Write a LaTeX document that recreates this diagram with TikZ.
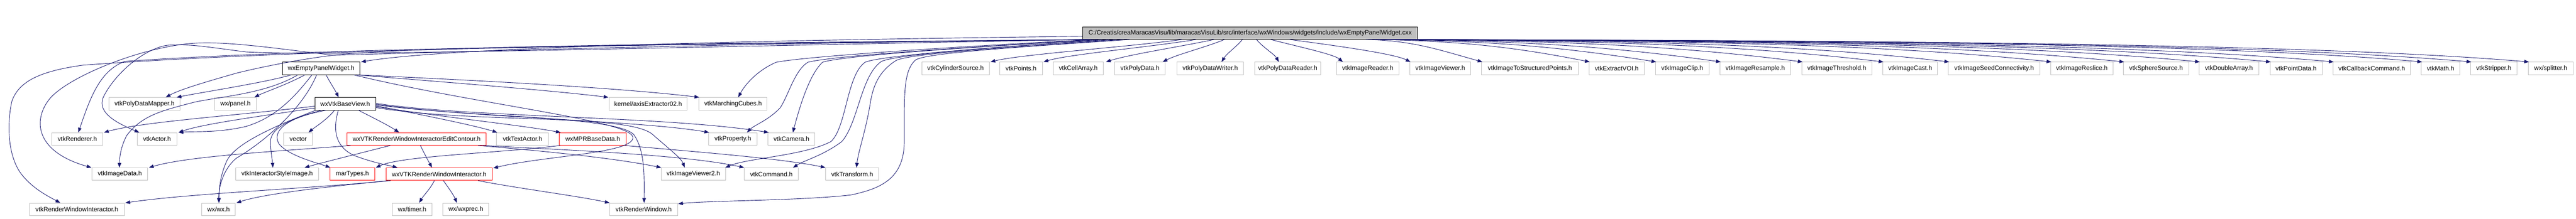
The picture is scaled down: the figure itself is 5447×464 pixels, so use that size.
\documentclass[tikz,border=0pt]{standalone}
\usepackage{fontspec}
\setmainfont{Liberation Sans}
\usetikzlibrary{arrows.meta}
\definecolor{edgec}{HTML}{191970}
\definecolor{greyb}{HTML}{BFBFBF}
\begin{document}
\begin{tikzpicture}[x=1pt,y=-1pt,
  box/.style={rectangle, draw=greyb, line width=1pt, inner sep=0pt, minimum height=26.6pt, font=\fontsize{13.33}{16}\selectfont, text=black},
  kbox/.style={box, draw=black},
  rbox/.style={box, draw=red},
  rootbox/.style={box, draw=black, fill=greyb},
  edge/.style={draw=edgec, line width=1pt, -{Triangle[length=10pt,width=7.5pt]}},
]
\useasboundingbox[fill=white] (0,0) rectangle (5447,464);
% root
\node[rootbox, minimum width=708] (root) at (2643.5,70) {C:/Creatis/creaMaracasVisu/lib/maracasVisuLib/src/interface/wxWindows/widgets/include/wxEmptyPanelWidget.cxx};
% row 1
\node[kbox, minimum width=164] (wxe) at (679,145) {wxEmptyPanelWidget.h};
\node[box, minimum width=143] (cyl) at (2020.5,145) {vtkCylinderSource.h};
\node[box, minimum width=90] (pts) at (2159,145) {vtkPoints.h};
\node[box, minimum width=106] (cell) at (2280,145) {vtkCellArray.h};
\node[box, minimum width=107] (pd) at (2410.5,145) {vtkPolyData.h};
\node[box, minimum width=141] (pdw) at (2559,145) {vtkPolyDataWriter.h};
\node[box, minimum width=140] (pdr) at (2723,145) {vtkPolyDataReader.h};
\node[box, minimum width=132] (ir) at (2892,145) {vtkImageReader.h};
\node[box, minimum width=129] (iv) at (3045.5,145) {vtkImageViewer.h};
\node[box, minimum width=204] (itsp) at (3235,145) {vtkImageToStructuredPoints.h};
\node[box, minimum width=117] (evoi) at (3418.5,145) {vtkExtractVOI.h};
\node[box, minimum width=113] (iclip) at (3557,145) {vtkImageClip.h};
\node[box, minimum width=149] (ires) at (3711.5,145) {vtkImageResample.h};
\node[box, minimum width=148] (ithr) at (3884,145) {vtkImageThreshold.h};
\node[box, minimum width=116] (icast) at (4039,145) {vtkImageCast.h};
\node[box, minimum width=193] (iseed) at (4216.5,145) {vtkImageSeedConnectivity.h};
\node[box, minimum width=132] (irsl) at (4402,145) {vtkImageReslice.h};
\node[box, minimum width=138] (sph) at (4559,145) {vtkSphereSource.h};
\node[box, minimum width=126] (dbl) at (4713,145) {vtkDoubleArray.h};
\node[box, minimum width=110] (ptd) at (4855,145) {vtkPointData.h};
\node[box, minimum width=164] (cbc) at (5015,145) {vtkCallbackCommand.h};
\node[box, minimum width=81] (math) at (5160.5,145) {vtkMath.h};
\node[box, minimum width=98] (strip) at (5273,145) {vtkStripper.h};
\node[box, minimum width=95] (split) at (5393.5,145) {wx/splitter.h};
% row 2
\node[box, minimum width=151] (pdm) at (305.5,220) {vtkPolyDataMapper.h};
\node[box, minimum width=88] (panel) at (498,220) {wx/panel.h};
\node[kbox, minimum width=128.5] (base) at (730,220) {wxVtkBaseView.h};
\node[box, minimum width=165] (axis) at (1370.5,220) {kernel/axisExtractor02.h};
\node[box, minimum width=144] (mc) at (1550,220) {vtkMarchingCubes.h};
% row 3
\node[box, minimum width=107.6] (ren) at (163.6,294.5) {vtkRenderer.h};
\node[box, minimum width=84] (actor) at (332,294.5) {vtkActor.h};
\node[box, minimum width=61] (vec) at (630.5,294.5) {vector};
\node[rbox, minimum width=294.5] (edit) at (881,294.5) {wxVTKRenderWindowInteractorEditContour.h};
\node[box, minimum width=110] (tact) at (1105,294.5) {vtkTextActor.h};
\node[rbox, minimum width=141] (mpr) at (1253.5,294.5) {wxMPRBaseData.h};
\node[box, minimum width=103] (prop) at (1549.5,294.5) {vtkProperty.h};
\node[box, minimum width=99] (cam) at (1673.5,294.5) {vtkCamera.h};
% row 4
\node[box, minimum width=118] (idata) at (253.4,369) {vtkImageData.h};
\node[box, minimum width=176] (isi) at (586,369) {vtkInteractorStyleImage.h};
\node[rbox, minimum width=94] (mar) at (745,369) {marTypes.h};
\node[rbox, minimum width=224] (rwi) at (928.5,369) {wxVTKRenderWindowInteractor.h};
\node[box, minimum width=136.5] (iv2) at (1466,369) {vtkImageViewer2.h};
\node[box, minimum width=114] (cmd) at (1631,369) {vtkCommand.h};
\node[box, minimum width=112] (tr) at (1802,369) {vtkTransform.h};
% row 5
\node[box, minimum width=200] (vrwi) at (162.5,443.7) {vtkRenderWindowInteractor.h};
\node[box, minimum width=71] (wxwx) at (462,443.7) {wx/wx.h};
\node[box, minimum width=84] (timer) at (871.5,443.7) {wx/timer.h};
\node[box, minimum width=97] (wxprec) at (985,443.7) {wx/wxprec.h};
\node[box, minimum width=143] (rw) at (1361,443.7) {vtkRenderWindow.h};

% ---- root edges, left side
\draw[edge] ([yshift=-7]root.west) .. controls (1600,85) and (950,100) .. ([xshift=2]wxe.north east);
\draw[edge] ([xshift=2]root.south west) .. controls (1400,92) and (850,100) .. (705,117) .. controls (640,125) and (560,140) .. (500,155) .. controls (430,175) and (380,190) .. ([xshift=45]pdm.north);
\draw[edge] ([xshift=6]root.south west) .. controls (1400,95) and (700,100) .. (264,130) .. controls (210,150) and (190,210) .. ([xshift=2]ren.north);
\draw[edge] ([xshift=10]root.south west) .. controls (1400,100) and (700,120) .. (520,110) .. controls (440,100) and (400,92) .. (353,96) .. controls (300,105) and (240,160) .. (218,207) .. controls (205,240) and (250,262) .. ([xshift=5]actor.north west);
\draw[edge] ([xshift=14]root.south west) .. controls (1500,92) and (900,112) .. (705,117) .. controls (600,105) and (480,86) .. (406,92) .. controls (300,100) and (150,160) .. (107,207) .. controls (70,250) and (70,320) .. ([xshift=-60]idata.north);
\draw[edge] ([xshift=18]root.south west) .. controls (1400,95) and (700,100) .. (176,138) .. controls (90,150) and (40,170) .. (25,215) .. controls (15,260) and (15,330) .. (46,370) .. controls (70,400) and (100,415) .. ([xshift=-35]vrwi.north);
\draw[edge] ([xshift=22]root.south west) .. controls (2000,100) and (1700,120) .. (1641,132) .. controls (1600,150) and (1575,180) .. ([xshift=11]mc.north);
\draw[edge] ([xshift=30]root.south west) .. controls (2050,100) and (1760,118) .. (1708,132) .. controls (1680,150) and (1668,200) .. (1650,228) .. controls (1625,255) and (1595,265) .. ([xshift=30]prop.north);
\draw[edge] ([xshift=40]root.south west) .. controls (2050,100) and (1780,118) .. (1739,132) .. controls (1710,160) and (1690,230) .. ([xshift=3]cam.north);
\draw[edge] ([xshift=55]root.south west) .. controls (2100,100) and (1860,118) .. (1829,132) .. controls (1790,160) and (1790,270) .. (1757,300) .. controls (1700,330) and (1580,335) .. ([xshift=-1]iv2.north east);
\draw[edge] ([xshift=70]root.south west) .. controls (2100,100) and (1900,115) .. (1864,130) .. controls (1820,160) and (1815,260) .. (1780,300) .. controls (1740,330) and (1700,340) .. ([xshift=46]cmd.north);
\draw[edge] ([xshift=85]root.south west) .. controls (2150,100) and (1930,112) .. (1895,128) .. controls (1860,150) and (1846,180) .. (1840,220) .. controls (1830,280) and (1815,320) .. ([xshift=9]tr.north);
\draw[edge] ([xshift=100]root.south west) .. controls (2150,100) and (1960,112) .. (1936,127) .. controls (1910,150) and (1912,200) .. (1912,300) .. controls (1912,380) and (1860,400) .. (1800,413) .. controls (1700,425) and (1500,425) .. ([xshift=1,yshift=-2]rw.north east);
% ---- root edges, row 1 near
\draw[edge] ([xshift=210]root.south west) .. controls (2380,100) and (2160,115) .. ([xshift=2]cyl.north east);
\draw[edge] ([xshift=240]root.south west) .. controls (2430,100) and (2260,115) .. ([xshift=2]pts.north east);
\draw[edge] ([xshift=278]root.south west) .. controls (2490,100) and (2390,115) .. ([xshift=5]cell.north east);
\draw[edge] ([xshift=300]root.south west) .. controls (2550,100) and (2490,115) .. ([xshift=-6]pd.north east);
\draw[edge] ([xshift=338]root.south west) .. controls (2614,100) and (2595,112) .. ([xshift=24]pdw.north);
\draw[edge] ([xshift=368]root.south west) .. controls (2670,100) and (2695,115) .. ([xshift=-19]pdr.north);
\draw[edge] ([xshift=398]root.south west) .. controls (2750,100) and (2820,115) .. ([xshift=14]ir.north west);
\draw[edge] ([xshift=438]root.south west) .. controls (2850,100) and (2950,115) .. ([xshift=2]iv.north west);
% ---- root edges, row 1 far
\foreach \t/\s/\a/\b/\h in {itsp/-110/100/90/25, evoi/-100/190/150/30, iclip/-92/240/200/32, ires/-84/290/240/34, ithr/-76/360/280/36, icast/-68/420/320/38, iseed/-60/470/340/40, irsl/-52/560/370/40, sph/-44/620/390/40, dbl/-36/680/410/40, ptd/-28/730/430/40, cbc/-22/780/440/40, math/-16/860/450/40, strip/-10/900/460/40, split/-4/940/470/40}
  \draw[edge] ([xshift=\s]root.south east) .. controls +(\a,2) and +(-\b,-\h) .. ([xshift=2]\t.north west);
% ---- wxEmptyPanelWidget.h
\draw[edge] ([xshift=19]wxe.south west) .. controls (560,175) and (430,195) .. ([xshift=68]pdm.north);
\draw[edge] ([xshift=48]wxe.south west) .. controls (605,180) and (560,195) .. ([xshift=40]panel.north);
\draw[edge] ([xshift=93]wxe.south west) .. controls (698,175) and (708,190) .. ([xshift=-14]base.north);
\draw[edge] ([xshift=33]wxe.south west) .. controls (560,200) and (460,205) .. (409,217) .. controls (340,235) and (300,245) .. (268,287) .. controls (256,310) and (253,330) .. ([xshift=-1]idata.north);
\draw[edge] ([xshift=63]wxe.south west) .. controls (620,210) and (580,250) .. (520,268) .. controls (460,282) and (410,278) .. ([xshift=3]actor.north east);
\draw[edge] ([xshift=73]wxe.south west) .. controls (640,230) and (560,300) .. (500,335) .. controls (470,360) and (462,400) .. ([xshift=1]wxwx.north);
\draw[edge] ([xshift=-6]wxe.south east) .. controls (950,175) and (1150,190) .. ([xshift=-1]axis.north west);
\draw[edge] ([xshift=-3]wxe.south east) .. controls (1000,170) and (1300,185) .. ([xshift=1]mc.north west);
\draw[edge] ([xshift=-13]wxe.south east) .. controls (1000,220) and (1330,255) .. (1338,290) .. controls (1345,325) and (1150,330) .. ([xshift=2,yshift=-1]rwi.north east);
% ---- wxVtkBaseView.h
\draw[edge] ([yshift=-5]base.west) .. controls (500,245) and (300,258) .. ([xshift=2]ren.north east);
\draw[edge] ([yshift=-9]base.west) .. controls (560,245) and (430,262) .. ([xshift=3]actor.north east);
\draw[edge] ([xshift=42]base.south west) .. controls (690,255) and (665,270) .. ([xshift=22]vec.north);
\draw[edge] ([xshift=93]base.south west) .. controls (790,250) and (820,265) .. ([xshift=-37]edit.north);
\draw[edge] ([yshift=-4]base.east) .. controls (900,245) and (1000,265) .. ([xshift=2]tact.north west);
\draw[edge] ([yshift=-6]base.east) .. controls (950,250) and (1100,265) .. ([xshift=3]mpr.north west);
\draw[edge] ([yshift=-1]base.east) .. controls (1000,250) and (1350,255) .. ([xshift=2]prop.north west);
\draw[edge] ([yshift=1]base.east) .. controls (1000,250) and (1400,245) .. ([xshift=2]cam.north west);
\draw[edge] ([yshift=-8]base.east) .. controls (1000,262) and (1330,240) .. (1380,285) .. controls (1420,320) and (1440,335) .. ([xshift=-18]iv2.north);
\draw[edge] ([yshift=-2]base.east) .. controls (1000,250) and (1300,245) .. (1340,285) .. controls (1365,320) and (1362,380) .. ([xshift=1]rw.north);
\draw[edge] ([xshift=14]base.south west) .. controls (620,250) and (572,270) .. (572,300) .. controls (572,320) and (576,340) .. ([xshift=-9]isi.north);
\draw[edge] ([xshift=24]base.south west) .. controls (600,250) and (575,280) .. (590,305) .. controls (610,330) and (670,345) .. ([xshift=1]mar.north west);
\draw[edge] ([xshift=50]base.south west) .. controls (705,270) and (705,310) .. (750,330) .. controls (790,345) and (820,350) .. ([xshift=-88]rwi.north);
\draw[edge] ([xshift=2]base.south west) .. controls (600,260) and (500,300) .. (480,340) .. controls (466,370) and (463,400) .. ([xshift=1]wxwx.north);
% ---- EditContour
\draw[edge] ([xshift=8]edit.south west) .. controls (600,320) and (400,330) .. ([xshift=2]idata.north east);
\draw[edge] ([xshift=92]edit.south west) .. controls (760,325) and (680,345) .. ([xshift=58]isi.north);
\draw[edge] ([xshift=8]edit.south) .. controls (897,325) and (905,340) .. ([xshift=-15]rwi.north);
\draw[edge] ([xshift=-18]edit.south east) .. controls (1150,320) and (1300,335) .. ([xshift=1]iv2.north west);
\draw[edge] ([xshift=-8]edit.south east) .. controls (1200,318) and (1450,328) .. (cmd.north west);
% ---- wxMPRBaseData
\draw[edge] ([xshift=2]mpr.south west) .. controls (1050,325) and (850,330) .. ([xshift=2]mar.north east);
\draw[edge] ([xshift=-4]mpr.south east) .. controls (1450,320) and (1650,335) .. (tr.north west);
% ---- wxVTKRenderWindowInteractor
\draw[edge] ([xshift=10]rwi.south west) .. controls (650,400) and (400,410) .. ([xshift=2]vrwi.north east);
\draw[edge] ([xshift=5]rwi.south west) .. controls (700,395) and (560,410) .. ([xshift=2]wxwx.north east);
\draw[edge] ([xshift=-10]rwi.south) .. controls (910,400) and (895,415) .. ([xshift=15]timer.north);
\draw[edge] ([xshift=9]rwi.south) .. controls (950,400) and (960,415) .. ([xshift=-19]wxprec.north);
\draw[edge] ([xshift=-30]rwi.south east) .. controls (1100,400) and (1220,415) .. (rw.north west);
\end{tikzpicture}
\end{document}
